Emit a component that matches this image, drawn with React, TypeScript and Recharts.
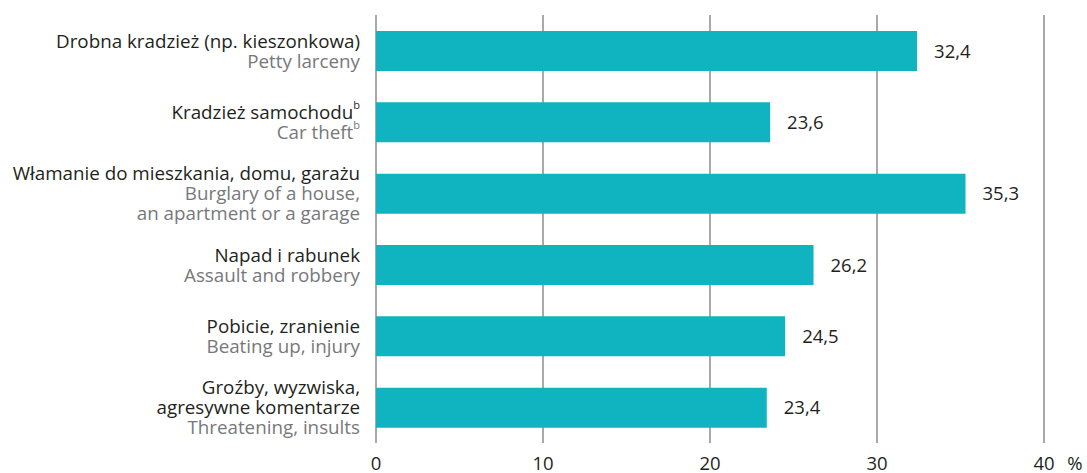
import { BarChart, Bar, XAxis, YAxis, CartesianGrid, LabelList } from "recharts";

// Polish label lines (dark) and English lines (gray), one entry per bar
const plLabels: string[][] = [
  ["Drobna kradzież (np. kieszonkowa)"],
  ["Kradzież samochodu^b"],
  ["Włamanie do mieszkania, domu, garażu"],
  ["Napad i rabunek"],
  ["Pobicie, zranienie"],
  ["Groźby, wyzwiska,", "agresywne komentarze"],
];
const enLabels: string[][] = [
  ["Petty larceny"],
  ["Car theft^b"],
  ["Burglary of a house,", "an apartment or a garage"],
  ["Assault and robbery"],
  ["Beating up, injury"],
  ["Threatening, insults"],
];
const values = [32.4, 23.6, 35.3, 26.2, 24.5, 23.4];
const xTicks = [0, 10, 20, 30, 40];

const data = values.map((v, i) => ({ id: String(i), value: v }));

const FONT = "'Open Sans', sans-serif";
const DARK = "#231f20";
const GRAY = "#77787b";
const TEAL = "#10b4c0";
const GRID = "#8c8c8c";

// text with optional "^b" superscript at the end
function lineText(s: string) {
  const sup = s.endsWith("^b");
  const main = sup ? s.slice(0, -2) : s;
  return (
    <>
      {main}
      {sup && (
        <tspan fontSize={11} dy={-8}>
          b
        </tspan>
      )}
    </>
  );
}

function CategoryTick(props: any) {
  const { x, y, payload } = props;
  const i = Number(payload.value);
  const lines = [
    ...plLabels[i].map((t) => ({ t, c: DARK })),
    ...enLabels[i].map((t) => ({ t, c: GRAY })),
  ];
  const lh = 20;
  const start = y - ((lines.length - 1) * lh) / 2;
  return (
    <g>
      {lines.map((l, k) => (
        <text
          key={k}
          x={x - 8}
          y={start + k * lh}
          textAnchor="end"
          dominantBaseline="central"
          fill={l.c}
          fontSize={18.8}
          fontFamily={FONT}
        >
          {lineText(l.t)}
        </text>
      ))}
    </g>
  );
}

function ValueTick(props: any) {
  const { x, y, payload } = props;
  return (
    <text
      x={x}
      y={y + 11}
      textAnchor="middle"
      dominantBaseline="central"
      fill={DARK}
      fontSize={18.5}
      fontFamily={FONT}
    >
      {payload.value}
    </text>
  );
}

export default function App() {
  return (
    <div style={{ position: "absolute", left: 0, top: 0, background: "#fff" }}>
      <BarChart
        width={1087}
        height={473}
        data={data}
        layout="vertical"
        margin={{ top: 15, right: 43, bottom: 0, left: 16 }}
      >
        <CartesianGrid horizontal={false} stroke={GRID} strokeWidth={1.5} verticalValues={xTicks} />
        <XAxis
          type="number"
          domain={[0, 40]}
          ticks={xTicks}
          axisLine={false}
          tickLine={false}
          height={30}
          tick={<ValueTick />}
          label={{
            content: (p: any) => {
              const vb = p.viewBox;
              return (
                <text
                  x={vb.x + vb.width + 31}
                  y={vb.y + 19}
                  textAnchor="middle"
                  dominantBaseline="central"
                  fill={DARK}
                  fontSize={18.5}
                  fontFamily={FONT}
                >
                  %
                </text>
              );
            },
          }}
        />
        <YAxis
          type="category"
          dataKey="id"
          width={360}
          axisLine={false}
          tickLine={false}
          tick={<CategoryTick />}
          interval={0}
        />
        <Bar dataKey="value" fill={TEAL} barSize={40} isAnimationActive={false}>
          <LabelList
            dataKey="value"
            position="right"
            offset={17}
            fill={DARK}
            fontSize={18.5}
            fontFamily={FONT}
            formatter={(v: any) => String(v).replace(".", ",")}
          />
        </Bar>
      </BarChart>
    </div>
  );
}
